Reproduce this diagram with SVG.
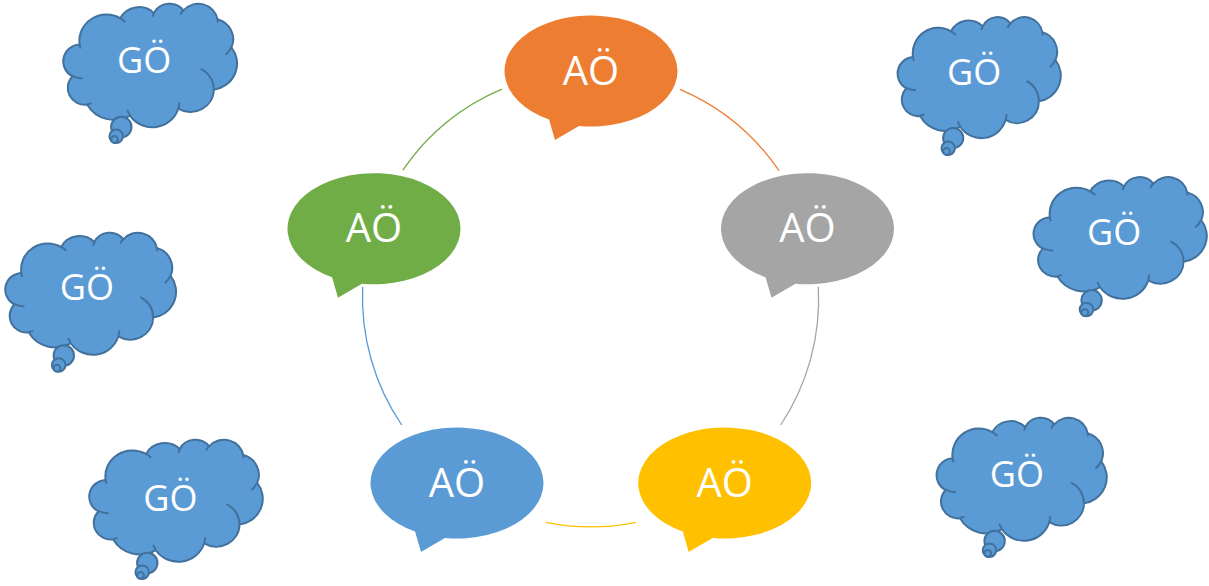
<svg xmlns="http://www.w3.org/2000/svg" xmlns:xlink="http://www.w3.org/1999/xlink" width="1209" height="586" viewBox="0 0 1209 586">
<style>
.lbl{font-family:'Open Sans','Noto Sans','Liberation Sans',sans-serif;fill:#ffffff;text-anchor:middle}
.ao{font-size:40px}
.go{font-size:36px}
.conn{fill:none;stroke-width:1.3}
.tail{fill:#5B9BD5;stroke:#41719C;stroke-width:2}
</style>
<defs>
<path id="bub" d="M-12.04 54.96 L-36 69 L-41.94 48.54 A86.5 55.5 0 1 1 -12.04 54.96 Z"/>
<path id="cloudBody" fill="#5B9BD5" stroke="#41719C" stroke-width="2" vector-effect="non-scaling-stroke" stroke-linejoin="round" d="M3900 14370 A6753 9190 0 0 1 14005 5202 A5333 7267 0 0 1 22456 3435 A4365 5945 0 0 1 29833 2482 A4857 6595 0 0 1 38318 5577 A5333 7273 0 0 1 41818 15461 A6775 9220 0 0 1 37405 30207 A5785 7867 0 0 1 28557 36817 A6752 9215 0 0 1 16482 39270 A7720 10543 0 0 1 5806 35475 A4360 5918 0 0 1 2114 25554 A4345 5945 0 0 1 3900 14370 Z"/>
<path id="cloudInner" fill="none" stroke="#41719C" stroke-width="2" vector-effect="non-scaling-stroke" d="M4693 26177 A4345 5945 0 0 1 2160 25380 M6928 34899 A4360 5918 0 0 1 5820 35281 M16478 39090 A6752 9215 0 0 1 15809 37348 M28827 34751 A6752 9215 0 0 1 28561 36660 M34129 22954 A5785 7867 0 0 1 37381 30090 M41798 15354 A5333 7273 0 0 1 40350 18030 M38324 5426 A4857 6595 0 0 1 38401 6690 M29078 3952 A4857 6595 0 0 1 29820 2339 M22141 4720 A4365 5945 0 0 1 22500 3331 M14000 5192 A6753 9190 0 0 1 15301 6543 M4127 15789 A6753 9190 0 0 1 3900 14371"/>
</defs>

<g id="connectors">
<path class="conn" stroke="#70AD47" d="M402.8 170.2 A227.8 227.8 0 0 1 501.8 89.2"/>
<path class="conn" stroke="#ED7D31" d="M680 89.3 A227.8 227.8 0 0 1 779 170.7"/>
<path class="conn" stroke="#A5A5A5" d="M818.3 286.7 A227.8 227.8 0 0 1 780.7 425"/>
<path class="conn" stroke="#FFC000" d="M636 522.3 A227.8 227.8 0 0 1 545.7 522.3"/>
<path class="conn" stroke="#5B9BD5" d="M401.7 425 A227.8 227.8 0 0 1 362.7 286.7"/>
</g>

<g id="node-orange">
<use xlink:href="#bub" href="#bub" fill="#ED7D31" transform="translate(591,71)"/>
<text class="lbl ao" x="591" y="84.5">AÖ</text>
</g>
<g id="node-gray">
<use xlink:href="#bub" href="#bub" fill="#A5A5A5" transform="translate(807.5,228.7)"/>
<text class="lbl ao" x="807.5" y="242">AÖ</text>
</g>
<g id="node-yellow">
<use xlink:href="#bub" href="#bub" fill="#FFC000" transform="translate(724.7,483)"/>
<text class="lbl ao" x="724.7" y="497">AÖ</text>
</g>
<g id="node-blue">
<use xlink:href="#bub" href="#bub" fill="#5B9BD5" transform="translate(457,483)"/>
<text class="lbl ao" x="457" y="497">AÖ</text>
</g>
<g id="node-green">
<use xlink:href="#bub" href="#bub" fill="#70AD47" transform="translate(374,228.7)"/>
<text class="lbl ao" x="374" y="242">AÖ</text>
</g>

<g id="cloud-1">
<use xlink:href="#cloudBody" href="#cloudBody" transform="translate(64,3.3) scale(0.0040046,0.0028588)"/>
<use xlink:href="#cloudInner" href="#cloudInner" transform="translate(64,3.3) scale(0.0040046,0.0028588)"/>
<circle class="tail" cx="121.3" cy="127" r="10.2"/>
<circle class="tail" cx="116.2" cy="136.3" r="6.8"/>
<circle class="tail" cx="114.5" cy="139.5" r="3.4"/>
<text class="lbl go" x="144.2" y="72.7">GÖ</text>
</g>
<g id="cloud-2">
<use xlink:href="#cloudBody" href="#cloudBody" transform="translate(898.3,16.7) scale(0.0037593,0.0028009)"/>
<use xlink:href="#cloudInner" href="#cloudInner" transform="translate(898.3,16.7) scale(0.0037593,0.0028009)"/>
<circle class="tail" cx="953.2" cy="138" r="10.1"/>
<circle class="tail" cx="948.2" cy="148.3" r="6.7"/>
<circle class="tail" cx="946.5" cy="151.5" r="3.4"/>
<text class="lbl go" x="974.2" y="85">GÖ</text>
</g>
<g id="cloud-3">
<use xlink:href="#cloudBody" href="#cloudBody" transform="translate(6,232.3) scale(0.0039352,0.0028241)"/>
<use xlink:href="#cloudInner" href="#cloudInner" transform="translate(6,232.3) scale(0.0039352,0.0028241)"/>
<circle class="tail" cx="63.8" cy="355.5" r="10.2"/>
<circle class="tail" cx="58.7" cy="365" r="6.8"/>
<circle class="tail" cx="57" cy="368.2" r="3.4"/>
<text class="lbl go" x="86.8" y="300">GÖ</text>
</g>
<g id="cloud-4">
<use xlink:href="#cloudBody" href="#cloudBody" transform="translate(1034.3,176.7) scale(0.0039907,0.0028148)"/>
<use xlink:href="#cloudInner" href="#cloudInner" transform="translate(1034.3,176.7) scale(0.0039907,0.0028148)"/>
<circle class="tail" cx="1091.6" cy="300.3" r="10.2"/>
<circle class="tail" cx="1086.5" cy="309.5" r="6.8"/>
<circle class="tail" cx="1084.8" cy="312.7" r="3.4"/>
<text class="lbl go" x="1114.2" y="245">GÖ</text>
</g>
<g id="cloud-5">
<use xlink:href="#cloudBody" href="#cloudBody" transform="translate(90,439.3) scale(0.0039977,0.0028241)"/>
<use xlink:href="#cloudInner" href="#cloudInner" transform="translate(90,439.3) scale(0.0039977,0.0028241)"/>
<circle class="tail" cx="147.3" cy="563" r="10.2"/>
<circle class="tail" cx="142.2" cy="572.2" r="6.8"/>
<circle class="tail" cx="140.5" cy="575.3" r="3.4"/>
<text class="lbl go" x="170.3" y="511">GÖ</text>
</g>
<g id="cloud-6">
<use xlink:href="#cloudBody" href="#cloudBody" transform="translate(937.3,417.3) scale(0.0039213,0.0028472)"/>
<use xlink:href="#cloudInner" href="#cloudInner" transform="translate(937.3,417.3) scale(0.0039213,0.0028472)"/>
<circle class="tail" cx="994.6" cy="541" r="10.2"/>
<circle class="tail" cx="989.5" cy="550.2" r="6.8"/>
<circle class="tail" cx="987.8" cy="553.3" r="3.4"/>
<text class="lbl go" x="1016.8" y="487.3">GÖ</text>
</g>
</svg>
